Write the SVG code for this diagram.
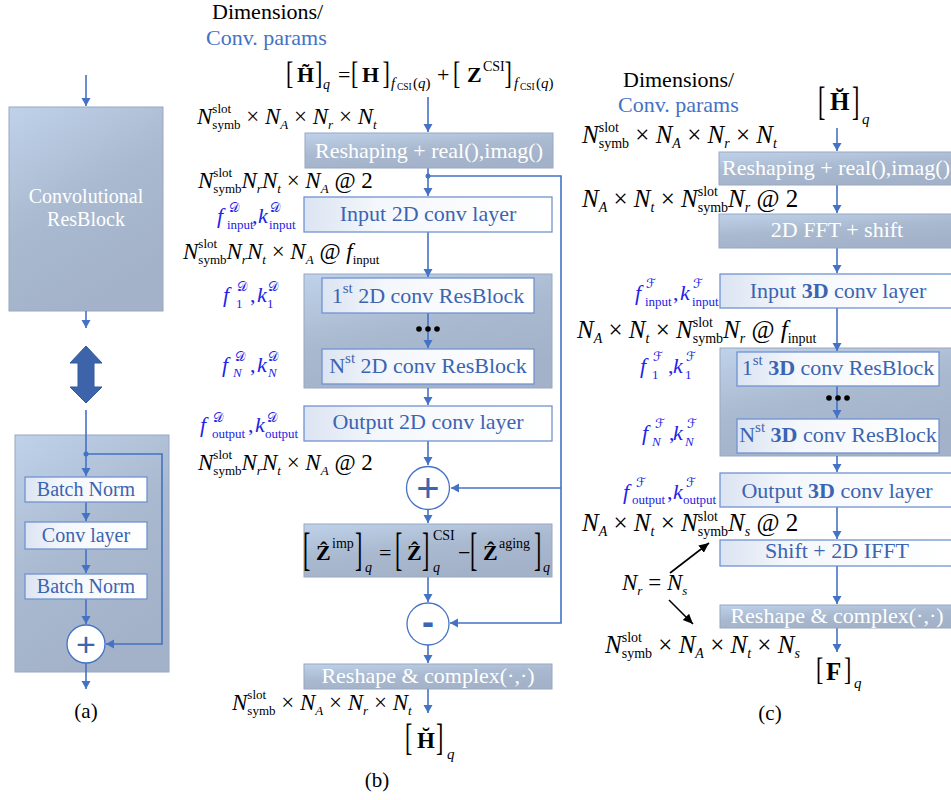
<svg xmlns="http://www.w3.org/2000/svg" width="951" height="800" viewBox="0 0 951 800">
<defs>
<linearGradient id="gd" x1="0" y1="0" x2="0.45" y2="1">
<stop offset="0" stop-color="#bfd2ea"/>
<stop offset="0.55" stop-color="#a9b9cf"/>
<stop offset="1" stop-color="#a3b2c8"/>
</linearGradient>
<linearGradient id="gl" x1="0" y1="0" x2="1" y2="0">
<stop offset="0" stop-color="#dbe4f2"/>
<stop offset="0.3" stop-color="#f4f7fb"/>
<stop offset="1" stop-color="#ffffff"/>
</linearGradient>
<marker id="ah" markerUnits="userSpaceOnUse" markerWidth="10" markerHeight="10" refX="8" refY="4.5" orient="auto">
<path d="M0,0 L8,4.5 L0,9 z" fill="#4472c4"/>
</marker>
<marker id="ak" markerUnits="userSpaceOnUse" markerWidth="12" markerHeight="10" refX="10" refY="4.5" orient="auto">
<path d="M0,0 L10,4.5 L0,9 z" fill="#000"/>
</marker>
<style>
.ln{stroke:#4472c4;stroke-width:1.6;fill:none}
.lk{stroke:#000;stroke-width:1.6;fill:none}
.bx{fill:url(#gd);stroke:#97a8c2;stroke-width:1}
.lb{fill:url(#gl);stroke:#7193d0;stroke-width:1.3}
.ci{fill:#fff;stroke:#4472c4;stroke-width:1.3}
.tw{font-family:"Liberation Serif",serif;font-size:22px;fill:#fff;text-anchor:middle}
.tb{font-family:"Liberation Serif",serif;font-size:22px;fill:#3b64b1;text-anchor:middle}
.ta{font-size:20px}
.pl{font-family:"Liberation Sans",sans-serif;fill:#3b64b1;text-anchor:middle}
.lab{font-family:"Liberation Serif",serif;font-size:21px;fill:#000;text-anchor:middle}
.hd{font-family:"Liberation Serif",serif;font-size:22px;fill:#000}
.hb{fill:#4472c4}
.m{font-family:"Liberation Serif",serif;font-size:23px;font-style:italic;fill:#000}
.mc{font-size:25px}
.p{font-size:22px;fill:#2323e6}
.u{font-style:normal}
.s{font-size:13px}
.sc{font-size:14px}
.s2{font-size:13px}
.cal{font-family:"DejaVu Serif","DejaVu Sans",serif;font-size:13px;font-style:normal}
.bd{font-weight:bold;font-style:normal}
.brk{font-family:"Liberation Serif",serif;font-size:22px;fill:#000}
.dot{fill:#000}
</style>
</defs>

<!-- ===== Panel (a) containers ===== -->
<g id="a-resblock">
<rect x="9" y="107" width="154" height="204" class="bx"/>
<text class="tw ta" x="86" y="203">Convolutional</text>
<text class="tw ta" x="86" y="226">ResBlock</text>
</g>
<g id="a-equiv">
<polygon points="86,346 102,363 94,363 94,387 102,387 86,403 70,387 78,387 78,363 70,363" fill="#3d64aa" stroke="#34599c" stroke-width="1"/>
</g>
<g id="a-detail">
<rect x="15" y="435" width="154" height="237" class="bx"/>
</g>

<!-- ===== Panel (b) containers ===== -->
<g id="b-resgroup">
<rect x="304" y="274" width="248" height="114" class="bx"/>
</g>

<!-- ===== Panel (c) containers ===== -->
<g id="c-resgroup">
<rect x="720" y="348" width="233" height="108" class="bx"/>
</g>

<!-- ===== Connectors ===== -->
<g id="connectors">
<line class="ln" x1="86" y1="75" x2="86" y2="106" marker-end="url(#ah)"/>
<line class="ln" x1="86" y1="311" x2="86" y2="328" marker-end="url(#ah)"/>
<line class="ln" x1="86" y1="410" x2="86" y2="476" marker-end="url(#ah)"/>
<line class="ln" x1="86" y1="502" x2="86" y2="521" marker-end="url(#ah)"/>
<line class="ln" x1="86" y1="549" x2="86" y2="573" marker-end="url(#ah)"/>
<line class="ln" x1="86" y1="599" x2="86" y2="624" marker-end="url(#ah)"/>
<line class="ln" x1="86" y1="663" x2="86" y2="689" marker-end="url(#ah)"/>
<path class="ln" d="M86,454 H162 V644 H106" marker-end="url(#ah)"/>
<circle cx="86" cy="454" r="2.5" fill="#4472c4"/>

<line class="ln" x1="428" y1="97" x2="428" y2="132" marker-end="url(#ah)"/>
<line class="ln" x1="428" y1="168" x2="428" y2="196" marker-end="url(#ah)"/>
<line class="ln" x1="428" y1="232" x2="428" y2="277" marker-end="url(#ah)"/>
<line class="ln" x1="428" y1="313" x2="428" y2="348" marker-end="url(#ah)"/>
<line class="ln" x1="428" y1="388" x2="428" y2="405" marker-end="url(#ah)"/>
<line class="ln" x1="428" y1="441" x2="428" y2="465" marker-end="url(#ah)"/>
<line class="ln" x1="428" y1="510" x2="428" y2="523" marker-end="url(#ah)"/>
<line class="ln" x1="428" y1="577" x2="428" y2="602" marker-end="url(#ah)"/>
<line class="ln" x1="428" y1="645" x2="428" y2="663" marker-end="url(#ah)"/>
<line class="ln" x1="428" y1="689" x2="428" y2="713" marker-end="url(#ah)"/>
<path class="ln" d="M428,176 H561 V623 H450" marker-end="url(#ah)"/>
<line class="ln" x1="561" y1="488" x2="451" y2="488" marker-end="url(#ah)"/>
<circle cx="428" cy="176" r="2.5" fill="#4472c4"/>

<line class="ln" x1="837" y1="128" x2="837" y2="151" marker-end="url(#ah)"/>
<line class="ln" x1="837" y1="185" x2="837" y2="213" marker-end="url(#ah)"/>
<line class="ln" x1="837" y1="248" x2="837" y2="273" marker-end="url(#ah)"/>
<line class="ln" x1="837" y1="308" x2="837" y2="351" marker-end="url(#ah)"/>
<line class="ln" x1="837" y1="386" x2="837" y2="418" marker-end="url(#ah)"/>
<line class="ln" x1="837" y1="456" x2="837" y2="472" marker-end="url(#ah)"/>
<line class="ln" x1="837" y1="507" x2="837" y2="539" marker-end="url(#ah)"/>
<line class="ln" x1="837" y1="566" x2="837" y2="604" marker-end="url(#ah)"/>
<line class="ln" x1="837" y1="628" x2="837" y2="652" marker-end="url(#ah)"/>
<line class="lk" x1="670" y1="573" x2="709" y2="543" marker-end="url(#ak)"/>
<line class="lk" x1="669" y1="600" x2="693" y2="624" marker-end="url(#ak)"/>
</g>

<!-- ===== Panel (a) nodes ===== -->
<g id="a-bn1"><rect x="25" y="477" width="122" height="25" class="lb"/><text class="tb ta" x="86" y="496">Batch Norm</text></g>
<g id="a-conv"><rect x="25" y="522" width="122" height="27" class="lb"/><text class="tb ta" x="86" y="542">Conv layer</text></g>
<g id="a-bn2"><rect x="25" y="574" width="122" height="25" class="lb"/><text class="tb ta" x="86" y="593">Batch Norm</text></g>
<g id="a-add"><circle cx="86" cy="644" r="19" class="ci"/><text class="pl" x="86" y="656" font-size="34">+</text></g>
<text class="lab" x="86" y="718">(a)</text>

<!-- ===== Panel (b) ===== -->
<text class="hd" x="212" y="19">Dimensions/</text>
<text class="hd hb" x="206" y="45">Conv. params</text>

<g id="b-input-eq">
<text class="brk" transform="translate(286,84) scale(1,1.45)">[</text>
<text class="brk" transform="translate(315,84) scale(1,1.45)">]</text>
<text class="brk" transform="translate(351,84) scale(1,1.45)">[</text>
<text class="brk" transform="translate(382.5,84) scale(1,1.45)">]</text>
<text class="brk" transform="translate(453,84) scale(1,1.45)">[</text>
<text class="brk" transform="translate(504.5,84) scale(1,1.45)">]</text>
<text class="m u"><tspan class="bd" font-size="22" x="297" y="82">H&#x303;</tspan><tspan font-style="italic" font-size="14" x="323" y="89">q</tspan><tspan font-size="22" x="338" y="82">=</tspan><tspan class="bd" font-size="22" x="362" y="82">H</tspan><tspan font-style="italic" font-size="15" x="391" y="88">f</tspan><tspan font-size="9.5" x="397" y="90">CSI</tspan><tspan font-size="15" x="413" y="88">(<tspan font-style="italic">q</tspan>)</tspan><tspan font-size="22" x="437" y="82">+</tspan><tspan class="bd" font-size="22" x="467" y="82">Z</tspan><tspan font-size="14" x="483" y="71">CSI</tspan><tspan font-style="italic" font-size="15" x="514" y="88">f</tspan><tspan font-size="9.5" x="520" y="90">CSI</tspan><tspan font-size="15" x="536" y="88">(<tspan font-style="italic">q</tspan>)</tspan></text>
</g>

<text class="m" x="197" y="124">N<tspan class="s u" dy="-11">slot</tspan><tspan class="s u" dx="-18.8" dy="16">symb</tspan><tspan class="u" dy="-5"> × </tspan>N<tspan class="s" dy="5">A</tspan><tspan class="u" dy="-5"> × </tspan>N<tspan class="s" dy="5">r</tspan><tspan class="u" dy="-5"> × </tspan>N<tspan class="s" dy="5">t</tspan></text>

<g id="b-reshape"><rect x="305" y="133" width="248" height="35" class="bx"/><text class="tw" x="429" y="158">Reshaping + real(),imag()</text></g>

<text class="m" x="198" y="188">N<tspan class="s u" dy="-11">slot</tspan><tspan class="s u" dx="-18.8" dy="16">symb</tspan><tspan dy="-5">N</tspan><tspan class="s" dy="5">r</tspan><tspan dy="-5">N</tspan><tspan class="s" dy="5">t</tspan><tspan class="u" dy="-5"> × </tspan>N<tspan class="s" dy="5">A</tspan><tspan class="u" dy="-5"> @ 2</tspan></text>

<g id="b-input-conv"><rect x="304" y="197" width="248" height="35" class="lb"/><text class="tb" x="428" y="221">Input 2D conv layer</text></g>
<text class="m p"><tspan x="217" y="223">f</tspan><tspan class="cal" x="229" y="212">𝒟</tspan><tspan class="s2 u" x="227" y="229">input</tspan><tspan class="u" x="252" y="223">,</tspan><tspan x="258" y="223">k</tspan><tspan class="cal" x="270" y="212">𝒟</tspan><tspan class="s2 u" x="269" y="229">input</tspan></text>

<text class="m" x="183" y="259">N<tspan class="s u" dy="-11">slot</tspan><tspan class="s u" dx="-18.8" dy="16">symb</tspan><tspan dy="-5">N</tspan><tspan class="s" dy="5">r</tspan><tspan dy="-5">N</tspan><tspan class="s" dy="5">t</tspan><tspan class="u" dy="-5"> × </tspan>N<tspan class="s" dy="5">A</tspan><tspan class="u" dy="-5"> @ </tspan>f<tspan class="s u" dy="5">input</tspan></text>

<g id="b-res1"><rect x="322" y="278" width="212" height="35" class="lb"/><text class="tb" x="428" y="303">1<tspan font-size="15" dy="-10">st</tspan><tspan dy="10"> 2D conv ResBlock</tspan></text></g>
<text class="m p"><tspan x="223" y="302">f</tspan><tspan class="cal" x="237" y="291">𝒟</tspan><tspan class="s2 u" x="236" y="308">1</tspan><tspan class="u" x="250" y="302">,</tspan><tspan x="257" y="302">k</tspan><tspan class="cal" x="268" y="291">𝒟</tspan><tspan class="s2 u" x="267" y="308">1</tspan></text>

<g id="b-dots"><circle class="dot" cx="419" cy="329" r="2.8"/><circle class="dot" cx="428" cy="329" r="2.8"/><circle class="dot" cx="437" cy="329" r="2.8"/></g>

<g id="b-resN"><rect x="322" y="349" width="212" height="35" class="lb"/><text class="tb" x="428" y="373">N<tspan font-size="15" dy="-10">st</tspan><tspan dy="10"> 2D conv ResBlock</tspan></text></g>
<text class="m p"><tspan x="222" y="372">f</tspan><tspan class="cal" x="235" y="361">𝒟</tspan><tspan class="s2" x="233" y="377">N</tspan><tspan class="u" x="250" y="372">,</tspan><tspan x="257" y="372">k</tspan><tspan class="cal" x="268" y="361">𝒟</tspan><tspan class="s2" x="268" y="377">N</tspan></text>

<g id="b-output-conv"><rect x="304" y="406" width="248" height="35" class="lb"/><text class="tb" x="428" y="429">Output 2D conv layer</text></g>
<text class="m p"><tspan x="200" y="432">f</tspan><tspan class="cal" x="213" y="422">𝒟</tspan><tspan class="s2 u" x="212" y="438">output</tspan><tspan class="u" x="248" y="432">,</tspan><tspan x="255" y="432">k</tspan><tspan class="cal" x="267" y="422">𝒟</tspan><tspan class="s2 u" x="265" y="438">output</tspan></text>

<text class="m" x="198" y="470">N<tspan class="s u" dy="-11">slot</tspan><tspan class="s u" dx="-18.8" dy="16">symb</tspan><tspan dy="-5">N</tspan><tspan class="s" dy="5">r</tspan><tspan dy="-5">N</tspan><tspan class="s" dy="5">t</tspan><tspan class="u" dy="-5"> × </tspan>N<tspan class="s" dy="5">A</tspan><tspan class="u" dy="-5"> @ 2</tspan></text>

<g id="b-add"><circle cx="428" cy="488" r="21.5" class="ci"/><text class="pl" x="428" y="502" font-size="40">+</text></g>

<g id="b-zimp">
<rect x="304" y="524" width="248" height="53" class="bx"/>
<text class="brk" transform="translate(303,565) scale(1,2.1)">[</text>
<text class="brk" transform="translate(355,565) scale(1,2.1)">]</text>
<text class="brk" transform="translate(395,565) scale(1,2.1)">[</text>
<text class="brk" transform="translate(422,565) scale(1,2.1)">]</text>
<text class="brk" transform="translate(470,565) scale(1,2.1)">[</text>
<text class="brk" transform="translate(534,565) scale(1,2.1)">]</text>
<text class="m u"><tspan class="bd" font-size="22" x="316" y="560">&#x1E90;</tspan><tspan font-size="14" x="332" y="548">imp</tspan><tspan font-style="italic" font-size="14" x="365" y="572">q</tspan><tspan font-size="22" x="379" y="560">=</tspan><tspan class="bd" font-size="22" x="407" y="560">&#x1E90;</tspan><tspan font-size="14" x="433" y="540">CSI</tspan><tspan font-style="italic" font-size="14" x="433" y="572">q</tspan><tspan font-size="22" x="458" y="560">−</tspan><tspan class="bd" font-size="22" x="483" y="560">&#x1E90;</tspan><tspan font-size="14" x="499" y="548">aging</tspan><tspan font-style="italic" font-size="14" x="543" y="572">q</tspan></text>
</g>

<g id="b-sub"><circle cx="428" cy="624" r="21" class="ci"/><text class="pl" x="428" y="634" font-size="36" font-weight="bold">-</text></g>

<g id="b-reshape-out"><rect x="304" y="664" width="248" height="25" class="bx"/><text class="tw" x="428" y="683">Reshape &amp; complex(·,·)</text></g>

<text class="m" x="232" y="710">N<tspan class="s u" dy="-11">slot</tspan><tspan class="s u" dx="-18.8" dy="16">symb</tspan><tspan class="u" dy="-5"> × </tspan>N<tspan class="s" dy="5">A</tspan><tspan class="u" dy="-5"> × </tspan>N<tspan class="s" dy="5">r</tspan><tspan class="u" dy="-5"> × </tspan>N<tspan class="s" dy="5">t</tspan></text>

<g id="b-output">
<text class="brk" transform="translate(405,750) scale(1,1.7)">[</text>
<text class="brk" transform="translate(436,750) scale(1,1.7)">]</text>
<text class="m u"><tspan class="bd" font-size="23" x="417" y="748">H&#x306;</tspan><tspan font-style="italic" font-size="15" x="447" y="759">q</tspan></text>
</g>
<text class="lab" x="377" y="787">(b)</text>

<!-- ===== Panel (c) ===== -->
<text class="hd" x="623" y="87">Dimensions/</text>
<text class="hd hb" x="618" y="112">Conv. params</text>

<g id="c-input">
<text class="brk" transform="translate(818,115) scale(1,1.8)">[</text>
<text class="brk" transform="translate(852,115) scale(1,1.8)">]</text>
<text class="m u"><tspan class="bd" font-size="25" x="830" y="110">H&#x306;</tspan><tspan font-style="italic" font-size="15" x="862" y="124">q</tspan></text>
</g>

<text class="m mc" x="582" y="143">N<tspan class="sc u" dy="-11">slot</tspan><tspan class="sc u" dx="-20.2" dy="16">symb</tspan><tspan class="u" dy="-5"> × </tspan>N<tspan class="sc" dy="5">A</tspan><tspan class="u" dy="-5"> × </tspan>N<tspan class="sc" dy="5">r</tspan><tspan class="u" dy="-5"> × </tspan>N<tspan class="sc" dy="5">t</tspan></text>

<g id="c-reshape"><rect x="719" y="152" width="234" height="33" class="bx"/><text class="tw" x="836" y="175" font-size="20.5">Reshaping + real(),imag()</text></g>

<text class="m mc" x="582" y="207">N<tspan class="sc" dy="5">A</tspan><tspan class="u" dy="-5"> × </tspan>N<tspan class="sc" dy="5">t</tspan><tspan class="u" dy="-5"> × </tspan>N<tspan class="sc u" dy="-11">slot</tspan><tspan class="sc u" dx="-20.2" dy="16">symb</tspan><tspan dy="-5">N</tspan><tspan class="sc" dy="5">r</tspan><tspan class="u" dy="-5"> @ 2</tspan></text>

<g id="c-fft"><rect x="719" y="214" width="234" height="34" class="bx"/><text class="tw" x="837" y="237" font-size="21.5">2D FFT + shift</text></g>

<g id="c-input-conv"><rect x="720" y="274" width="233" height="34" class="lb"/><text class="tb" x="838" y="298">Input <tspan font-weight="bold">3D</tspan> conv layer</text></g>
<text class="m p"><tspan x="635" y="300">f</tspan><tspan class="cal" x="646" y="288">ℱ</tspan><tspan class="s2 u" x="645" y="306">input</tspan><tspan class="u" x="673" y="300">,</tspan><tspan x="680" y="300">k</tspan><tspan class="cal" x="693" y="288">ℱ</tspan><tspan class="s2 u" x="692" y="306">input</tspan></text>

<text class="m mc" x="577" y="338">N<tspan class="sc" dy="5">A</tspan><tspan class="u" dy="-5"> × </tspan>N<tspan class="sc" dy="5">t</tspan><tspan class="u" dy="-5"> × </tspan>N<tspan class="sc u" dy="-11">slot</tspan><tspan class="sc u" dx="-20.2" dy="16">symb</tspan><tspan dy="-5">N</tspan><tspan class="sc" dy="5">r</tspan><tspan class="u" dy="-5"> @ </tspan>f<tspan class="sc u" dy="5">input</tspan></text>

<g id="c-res1"><rect x="737" y="352" width="202" height="34" class="lb"/><text class="tb" x="838" y="375">1<tspan font-size="15" dy="-10">st</tspan><tspan dy="10"> </tspan><tspan font-weight="bold">3D</tspan> conv ResBlock</text></g>
<text class="m p"><tspan x="640" y="373">f</tspan><tspan class="cal" x="653" y="361">ℱ</tspan><tspan class="s2 u" x="652" y="379">1</tspan><tspan class="u" x="668" y="373">,</tspan><tspan x="673" y="373">k</tspan><tspan class="cal" x="686" y="361">ℱ</tspan><tspan class="s2 u" x="685" y="379">1</tspan></text>

<g id="c-dots"><circle class="dot" cx="829" cy="398" r="2.8"/><circle class="dot" cx="838" cy="398" r="2.8"/><circle class="dot" cx="847" cy="398" r="2.8"/></g>

<g id="c-resN"><rect x="737" y="419" width="202" height="34" class="lb"/><text class="tb" x="838" y="442">N<tspan font-size="15" dy="-10">st</tspan><tspan dy="10"> </tspan><tspan font-weight="bold">3D</tspan> conv ResBlock</text></g>
<text class="m p"><tspan x="642" y="440">f</tspan><tspan class="cal" x="655" y="428">ℱ</tspan><tspan class="s2" x="652" y="446">N</tspan><tspan class="u" x="669" y="440">,</tspan><tspan x="673" y="440">k</tspan><tspan class="cal" x="687" y="428">ℱ</tspan><tspan class="s2" x="685" y="446">N</tspan></text>

<g id="c-output-conv"><rect x="720" y="473" width="233" height="34" class="lb"/><text class="tb" x="837" y="498">Output <tspan font-weight="bold">3D</tspan> conv layer</text></g>
<text class="m p"><tspan x="623" y="499">f</tspan><tspan class="cal" x="636" y="487">ℱ</tspan><tspan class="s2 u" x="632" y="504">output</tspan><tspan class="u" x="667" y="499">,</tspan><tspan x="673" y="499">k</tspan><tspan class="cal" x="686" y="487">ℱ</tspan><tspan class="s2 u" x="683" y="504">output</tspan></text>

<text class="m mc" x="582" y="531">N<tspan class="sc" dy="5">A</tspan><tspan class="u" dy="-5"> × </tspan>N<tspan class="sc" dy="5">t</tspan><tspan class="u" dy="-5"> × </tspan>N<tspan class="sc u" dy="-10">slot</tspan><tspan class="sc u" dx="-20.2" dy="15">symb</tspan><tspan dy="-5">N</tspan><tspan class="sc" dy="5">s</tspan><tspan class="u" dy="-5"> @ 2</tspan></text>

<g id="c-ifft"><rect x="720" y="540" width="233" height="26" class="lb"/><text class="tb" x="837" y="558">Shift + 2D IFFT</text></g>

<text class="m" x="622" y="590">N<tspan class="s" dy="5">r</tspan><tspan class="u" dy="-5"> = </tspan>N<tspan class="s" dy="5">s</tspan></text>

<g id="c-reshape-out"><rect x="720" y="605" width="233" height="23" class="bx"/><text class="tw" x="837" y="623" font-size="21.5">Reshape &amp; complex(·,·)</text></g>

<text class="m mc" x="605" y="653">N<tspan class="sc u" dy="-11">slot</tspan><tspan class="sc u" dx="-20.2" dy="16">symb</tspan><tspan class="u" dy="-5"> × </tspan>N<tspan class="sc" dy="5">A</tspan><tspan class="u" dy="-5"> × </tspan>N<tspan class="sc" dy="5">t</tspan><tspan class="u" dy="-5"> × </tspan>N<tspan class="sc" dy="5">s</tspan></text>

<g id="c-output">
<text class="brk" transform="translate(816,680) scale(1,1.45)">[</text>
<text class="brk" transform="translate(844,680) scale(1,1.45)">]</text>
<text class="m u"><tspan class="bd" font-size="25" x="826" y="680">F</tspan><tspan font-style="italic" font-size="15" x="854" y="688">q</tspan></text>
</g>
<text class="lab" x="770" y="720">(c)</text>
</svg>
